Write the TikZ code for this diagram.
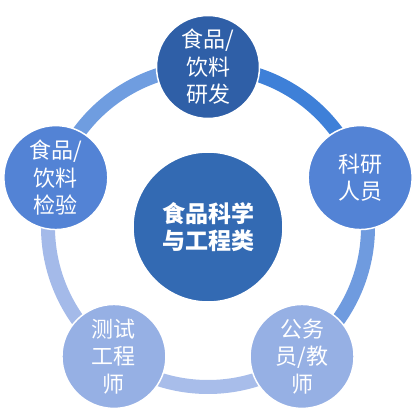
\documentclass[tikz,border=0pt]{standalone}
\usepackage{fontspec}
\newfontfamily\cjk{Noto Sans CJK SC}
\definecolor{cTop}{HTML}{2F5FA7}
\definecolor{cMid}{HTML}{336AB3}
\definecolor{cSide}{HTML}{5383D5}
\definecolor{cLow}{HTML}{96B0E4}
\definecolor{rA}{HTML}{3E80D8}
\definecolor{rB}{HTML}{6F9DE0}
\definecolor{rC}{HTML}{A4BAE9}
\definecolor{rD}{HTML}{A8BDEA}
\definecolor{rE}{HTML}{6F9BDF}
\begin{document}
\begin{tikzpicture}[x=1bp,y=1bp,
  ring/.style={line width=14bp},
  bubble/.style={circle, draw=white, line width=1.5bp, text=white, align=center, inner sep=0pt,
    font=\cjk\fontsize{22bp}{27.5bp}\selectfont},
  outer/.style={bubble, minimum size=104bp},
  hub/.style={bubble, minimum size=150bp, fill=cMid, font=\cjk\bfseries\fontsize{23bp}{27bp}\selectfont}
]
\useasboundingbox (0,0) rectangle (416,412);
\coordinate (c) at (208,185);
\path (c) ++(90:160) coordinate (pT);
\path (c) ++(18:160) coordinate (pR);
\path (c) ++(-54:160) coordinate (pBR);
\path (c) ++(-126:160) coordinate (pBL);
\path (c) ++(162:160) coordinate (pL);
\draw[ring, rA] (pT) arc[start angle=90, end angle=18, radius=160];
\draw[ring, rE] (pR) arc[start angle=18, end angle=-54, radius=160];
\draw[ring, rD] (pBR) arc[start angle=-54, end angle=-126, radius=160];
\draw[ring, rC] (pBL) arc[start angle=-126, end angle=-198, radius=160];
\draw[ring, rB] (pL) arc[start angle=162, end angle=90, radius=160];
\node[hub] (hubnode) at (c) {食品科学\\与工程类};
\node[outer, fill=cTop, minimum size=103bp] (top) at (pT) {食品/\\饮料\\研发};
\node[outer, fill=cSide] (right) at (pR) {科研\\人员};
\node[outer, fill=cLow] (bright) at (pBR) {公务\\员/教\\师};
\node[outer, fill=cLow] (bleft) at (pBL) {测试\\工程\\师};
\node[outer, fill=cSide] (left) at (pL) {食品/\\饮料\\检验};
\end{tikzpicture}
\end{document}
